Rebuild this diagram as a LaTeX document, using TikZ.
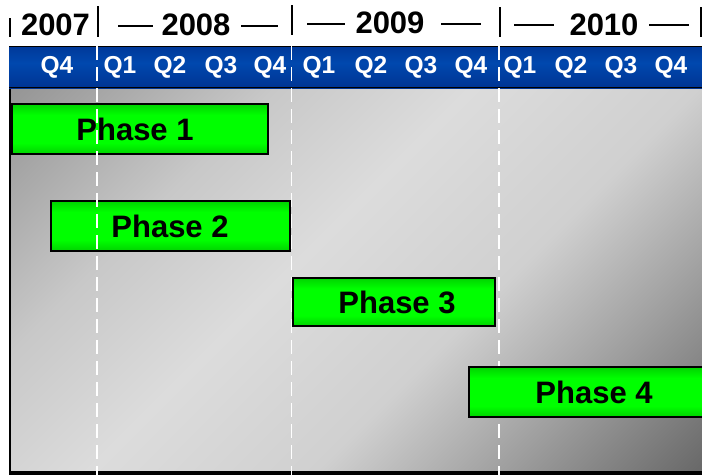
\documentclass[tikz,border=0pt]{standalone}
\usepackage{fontspec}
\setmainfont{Liberation Sans}
\definecolor{g0}{HTML}{505050}
\definecolor{g1}{HTML}{6A6A6A}
\definecolor{g2}{HTML}{A0A0A0}
\definecolor{g3}{HTML}{D0D0D0}
\definecolor{g4}{HTML}{DCDCDC}
\definecolor{g5}{HTML}{C8C8C8}
\definecolor{g6}{HTML}{A4A4A4}
\definecolor{g7}{HTML}{888888}
\definecolor{g8}{HTML}{7C7C7C}
\definecolor{bA}{HTML}{001850}
\definecolor{bB}{HTML}{00308E}
\definecolor{bC}{HTML}{0048AE}
\definecolor{grA}{HTML}{004E00}
\definecolor{grM}{HTML}{00A800}
\definecolor{grB}{HTML}{00FF00}
\pgfdeclareverticalshading{graybg}{100bp}{color(0bp)=(g0); color(15bp)=(g1); color(28bp)=(g2); color(40bp)=(g3); color(55bp)=(g4); color(68bp)=(g5); color(80bp)=(g6); color(90bp)=(g7); color(100bp)=(g8)}
\pgfdeclareverticalshading{bluebar}{100bp}{color(0bp)=(bA); color(20bp)=(bB); color(55bp)=(bC); color(85bp)=(bB); color(100bp)=(bA)}
\pgfdeclareverticalshading{greenbar}{100bp}{color(0bp)=(grA); color(14bp)=(grM); color(36bp)=(grB); color(64bp)=(grB); color(86bp)=(grM); color(100bp)=(grA)}
\begin{document}
\begin{tikzpicture}[x=1pt,y=-1pt,
  phasebox/.style={draw=black, line width=1.5pt, shading=greenbar, minimum height=50pt, inner sep=0pt},
  phasetxt/.style={font=\fontsize{31}{31}\selectfont\bfseries, text=black, inner sep=0pt},
  qtxt/.style={font=\fontsize{24.5}{24.5}\selectfont\bfseries, text=white, inner sep=0pt},
  yeartxt/.style={font=\fontsize{31}{31}\selectfont\bfseries, text=black, inner sep=0pt},
  yearsep/.style={black, line width=2pt},
  yeardash/.style={black, line width=1.3pt},
  qsep/.style={white, line width=1.8pt, dash pattern=on 14pt off 7pt}]
\useasboundingbox (0,0) rectangle (702,475);
\fill[white] (0,0) rectangle (702,475);
% grey field
\shade[shading=graybg, shading angle=45] (9,88) rectangle (702,472);
\draw[black, line width=1.5pt] (9.75,46) -- (9.75,472);
\fill[black] (9,471) rectangle (702,475);
% blue quarter bar
\shade[shading=bluebar] (9,46) rectangle (702,88);
\draw[black, line width=1.2pt] (9,46.6) -- (702,46.6);
\draw[black, line width=1.2pt] (9,87.4) -- (702,87.4);
% year separators
\draw[yearsep] (10,18) -- (10,37);
\draw[yearsep] (98,6) -- (98,37);
\draw[yearsep] (292,5) -- (292,35);
\draw[yearsep] (500,7) -- (500,37);
\draw[yearsep] (701,7) -- (701,37);
% years
\node[yeartxt] (y7) at (55.5,25) {2007};
\node[yeartxt] (y8) at (196,25) {2008};
\node[yeartxt] (y9) at (390,23) {2009};
\node[yeartxt] (y10) at (604,25) {2010};
\draw[yeardash] (118,26) -- (153,26);
\draw[yeardash] (241,26) -- (278,26);
\draw[yeardash] (307,24) -- (345,24);
\draw[yeardash] (441,24) -- (481,24);
\draw[yeardash] (514,25) -- (554,25);
\draw[yeardash] (649,25) -- (689,25);
% quarters
\node[qtxt] (q0) at (57,67) {Q4};
\node[qtxt] (q1) at (120,67) {Q1};
\node[qtxt] (q2) at (170,67) {Q2};
\node[qtxt] (q3) at (221,67) {Q3};
\node[qtxt] (q4) at (270,67) {Q4};
\node[qtxt] (q5) at (319,67) {Q1};
\node[qtxt] (q6) at (371,67) {Q2};
\node[qtxt] (q7) at (421,67) {Q3};
\node[qtxt] (q8) at (471,67) {Q4};
\node[qtxt] (q9) at (520,67) {Q1};
\node[qtxt] (q10) at (571,67) {Q2};
\node[qtxt] (q11) at (621,67) {Q3};
\node[qtxt] (q12) at (671,67) {Q4};
% phases 1-3
\node[phasebox, minimum width=256pt] (p1) at (140,129) {};
\node[phasetxt] (t1) at (135,129) {Phase 1};
\node[phasebox, minimum width=239pt] (p2) at (170.5,226) {};
\node[phasetxt] (t2) at (170,226) {Phase 2};
\node[phasebox, minimum width=202pt, minimum height=48pt] (p3) at (394,302) {};
\node[phasetxt] (t3) at (397,302) {Phase 3};
% quarter dashed separators
\draw[qsep] (97,46) -- (97,475);
\draw[qsep] (291.5,46) -- (291.5,475);
\draw[qsep] (499,46) -- (499,475);
% phase 4
\node[phasebox, minimum width=250pt] (p4) at (594,392) {};
\node[phasetxt] (t4) at (594,392) {Phase 4};
\end{tikzpicture}
\end{document}
